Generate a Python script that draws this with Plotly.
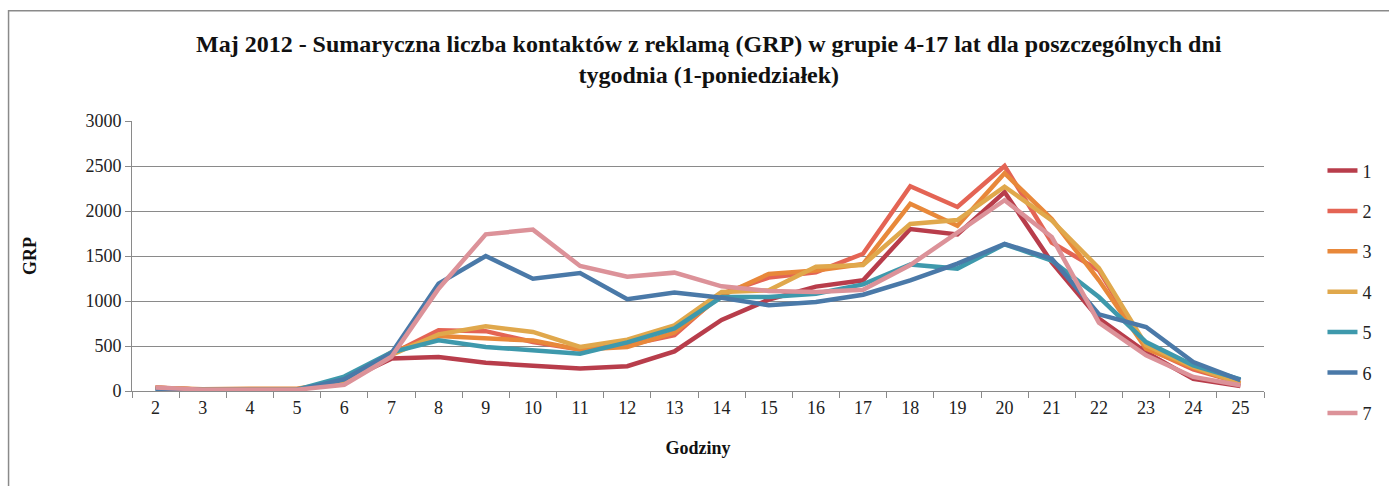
import plotly.graph_objects as go

hours = [str(h) for h in range(2, 26)]
series_names = ["1", "2", "3", "4", "5", "6", "7"]

s1 = [35, 15, 15, 15, 110, 360, 378, 315, 280, 250, 275, 440, 790, 1015, 1160, 1230, 1800, 1740, 2210, 1430, 805, 430, 135, 55]
s2 = [35, 15, 20, 20, 110, 410, 675, 665, 545, 460, 510, 620, 1080, 1260, 1320, 1525, 2275, 2045, 2500, 1650, 1340, 480, 240, 90]
s3 = [35, 20, 25, 25, 110, 430, 610, 580, 560, 460, 490, 650, 1060, 1300, 1340, 1410, 2080, 1835, 2420, 1910, 1230, 470, 260, 85]
s4 = [35, 15, 15, 15, 100, 400, 630, 718, 656, 489, 570, 730, 1100, 1119, 1380, 1400, 1855, 1900, 2270, 1895, 1365, 508, 270, 85]
s5 = [10, 5, 10, 15, 160, 430, 563, 489, 452, 415, 540, 695, 1044, 1044, 1080, 1185, 1405, 1360, 1630, 1450, 1044, 544, 285, 130]
s6 = [25, 10, 10, 10, 130, 420, 1193, 1500, 1248, 1311, 1019, 1093, 1037, 952, 989, 1070, 1230, 1415, 1635, 1470, 852, 711, 322, 120]
s7 = [40, 15, 15, 15, 70, 380, 1137, 1741, 1793, 1389, 1270, 1315, 1163, 1111, 1100, 1126, 1400, 1767, 2120, 1710, 760, 397, 156, 63]

colors = ["#B83D4B", "#E46454", "#E8883A", "#E0A84C", "#3E99AC", "#4A79A8", "#DC9299"]
all_series = [s1, s2, s3, s4, s5, s6, s7]

FONT = "Liberation Serif"

fig = go.Figure()
for name, vals, col in zip(series_names, all_series, colors):
    fig.add_trace(go.Scatter(
        x=hours, y=vals, name=name, mode="lines",
        line=dict(color=col, width=4.5),
        legendgroup=name,
    ))

W, H = 1389, 486
L, R, T, B = 132, 124.5, 120.7, 95.3
pw = W - L - R
ph = H - T - B

def px_to_paper_x(px):
    return (px - L) / pw

def px_to_paper_y(py):
    return (H - B - py) / ph

fig.update_layout(
    width=W, height=H,
    margin=dict(l=L, r=R, t=T, b=B, autoexpand=False),
    paper_bgcolor="white", plot_bgcolor="white",
    font=dict(family=FONT, size=18, color="#222222"),
    title=dict(
        text="Maj 2012 - Sumaryczna liczba kontaktów z reklamą (GRP) w grupie 4-17 lat dla poszczególnych dni<br>tygodnia (1-poniedziałek)",
        x=px_to_paper_x(709), xref="paper", xanchor="center",
        y=1 - 52 / H, yanchor="top",
        font=dict(family=FONT, size=24, color="#111111", weight="bold"),
    ),
    xaxis=dict(
        type="category", range=[-0.5, 23.5],
        showgrid=False, showline=True, linecolor="#8a8a8a", linewidth=1,
        ticks="outside", tickson="boundaries", ticklen=6, tickcolor="#8a8a8a",
        tickfont=dict(family=FONT, size=18, color="#222222"),
        title=dict(text="<b>Godziny</b>", font=dict(family=FONT, size=18, color="#111111"), standoff=24),
        zeroline=False,
    ),
    yaxis=dict(
        range=[0, 3000], tickvals=[0, 500, 1000, 1500, 2000, 2500, 3000],
        showgrid=True, gridcolor="#8a8a8a", gridwidth=1,
        showline=True, linecolor="#8a8a8a", linewidth=1,
        ticks="outside", ticklen=6, tickcolor="#8a8a8a",
        tickfont=dict(family=FONT, size=18, color="#222222"),
        title=dict(text="<b>GRP</b>", font=dict(family=FONT, size=18, color="#111111"), standoff=44),
        zeroline=False,
    ),
    legend=dict(
        x=px_to_paper_x(1323), y=px_to_paper_y(152), xanchor="left", yanchor="top",
        font=dict(family=FONT, size=18, color="#222222"),
        tracegroupgap=14, bgcolor="rgba(0,0,0,0)", maxheight=420,
    ),
    showlegend=True,
)

# outer chart border (partly outside the visible window, as in the reference)
fig.add_shape(
    type="rect", xref="paper", yref="paper",
    x0=px_to_paper_x(8.5), x1=px_to_paper_x(1400),
    y0=px_to_paper_y(500), y1=px_to_paper_y(10.5),
    line=dict(color="#8a8a8a", width=1.5), fillcolor="rgba(0,0,0,0)", layer="below",
)

fig.write_html("out.html", config={"displayModeBar": False},
               post_script="document.body.style.margin='0';")
